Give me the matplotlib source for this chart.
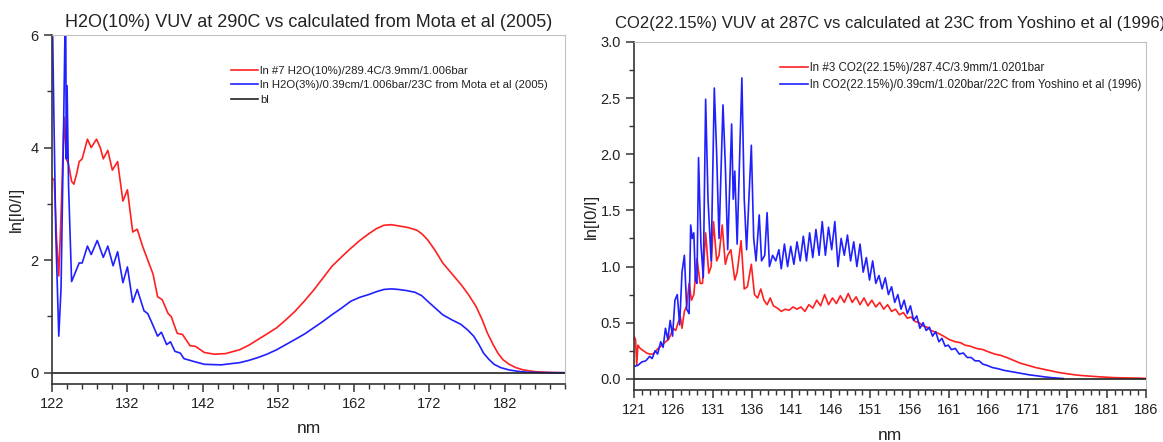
import matplotlib
matplotlib.use("Agg")
import matplotlib.pyplot as plt
from matplotlib.ticker import MultipleLocator, FormatStrFormatter

plt.rcParams['font.family'] = ['Liberation Sans', 'DejaVu Sans']

# ---- H2O panel data ----
h2o_meas_nm = [122.0, 122.3, 122.6, 122.9, 123.2, 123.6, 123.9, 124.2, 124.6, 124.9,
               125.3, 125.6, 126.0, 126.4, 126.7, 127.2, 127.9, 128.4, 128.8, 129.4,
               130.0, 130.7, 131.4, 132.0, 132.7, 133.3, 134.0, 134.7, 135.4, 136.0,
               136.6, 137.4, 137.8, 138.6, 139.3, 140.3, 141.0, 142.2, 143.5, 145.0,
               146.9, 148.1, 149.3, 150.5, 151.8, 153.0, 154.2, 155.5, 156.7, 157.9,
               159.1, 160.4, 161.6, 162.8, 164.0, 165.0, 166.0, 167.0, 167.9, 169.2,
               170.4, 171.1, 171.8, 172.8, 173.8, 175.0, 176.2, 177.2, 178.2, 179.0,
               179.7, 180.4, 181.1, 181.8, 182.6, 183.5, 184.5, 186.0, 188.0, 190.0]
h2o_meas = [3.46, 3.42, 2.4, 1.72, 2.8, 4.54, 3.8, 3.7, 3.4, 3.35,
            3.55, 3.75, 3.8, 4.0, 4.15, 4.0, 4.15, 4.0, 3.8, 3.95,
            3.6, 3.75, 3.05, 3.25, 2.5, 2.55, 2.25, 2.0, 1.75, 1.35,
            1.3, 1.05, 1.0, 0.7, 0.68, 0.48, 0.47, 0.36, 0.33, 0.34,
            0.41, 0.49, 0.59, 0.69, 0.80, 0.94, 1.09, 1.28, 1.47, 1.68,
            1.89, 2.06, 2.21, 2.35, 2.47, 2.56, 2.62, 2.63, 2.61, 2.58,
            2.53, 2.46, 2.36, 2.17, 1.95, 1.76, 1.57, 1.39, 1.18, 0.95,
            0.71, 0.52, 0.35, 0.23, 0.15, 0.09, 0.05, 0.02, 0.005, 0.0]

h2o_calc_nm = [122.0, 122.2, 122.5, 122.9, 123.2, 123.5, 123.8, 123.9, 124.0, 124.2,
               124.6, 125.0, 125.6, 126.0, 126.7, 127.2, 128.0, 128.8, 129.4, 130.1,
               130.7, 131.4, 132.0, 132.7, 133.3, 134.2, 134.7, 135.2, 136.0, 136.5,
               137.2, 137.7, 138.3, 139.0, 139.5, 140.3, 140.8, 142.2, 144.4, 146.9,
               148.1, 149.3, 150.5, 151.8, 153.0, 154.2, 155.5, 156.7, 157.9, 159.1,
               160.4, 161.6, 162.8, 164.0, 165.0, 166.0, 167.0, 167.9, 169.0, 170.1,
               171.0, 171.8, 172.8, 173.8, 175.0, 176.2, 177.1, 177.9, 178.6, 179.2,
               179.9, 180.6, 181.5, 182.6, 183.8, 185.0, 187.0, 190.0]
h2o_calc = [6.8, 5.0, 2.5, 0.65, 1.5, 4.0, 6.8, 3.8, 5.1, 3.3,
            1.62, 1.75, 1.95, 1.95, 2.25, 2.1, 2.35, 2.05, 2.25, 1.9,
            2.15, 1.6, 1.88, 1.25, 1.48, 1.1, 1.05, 0.9, 0.65, 0.72,
            0.5, 0.55, 0.38, 0.35, 0.25, 0.22, 0.2, 0.15, 0.14, 0.18,
            0.22, 0.27, 0.33, 0.41, 0.5, 0.59, 0.69, 0.80, 0.91, 1.03,
            1.15, 1.27, 1.34, 1.39, 1.44, 1.48, 1.49, 1.48, 1.46, 1.43,
            1.37, 1.27, 1.15, 1.03, 0.94, 0.86, 0.76, 0.65, 0.5, 0.35,
            0.24, 0.15, 0.09, 0.05, 0.025, 0.01, 0.003, 0.0]

h2o_bl_nm = [122, 190]
h2o_bl = [0, 0]

# ---- CO2 panel data ----
co2_meas_nm = [121.0, 121.2, 121.35, 121.5, 121.8, 122.2, 122.6, 123.0, 123.4, 123.8,
               124.2, 124.6, 125.0, 125.4, 125.7, 126.0, 126.3, 126.6, 126.9, 127.1,
               127.4, 127.7, 128.0, 128.3, 128.6, 129.0, 129.4, 129.7, 130.1, 130.5,
               130.8, 131.1, 131.5, 131.8, 132.2, 132.6, 132.9, 133.3, 133.8, 134.1,
               134.6, 135.0, 135.4, 135.9, 136.3, 136.7, 137.1, 137.5, 137.9, 138.3,
               138.7, 139.2, 139.7, 140.2, 140.7, 141.2, 141.7, 142.2, 142.7, 143.2,
               143.7, 144.2, 144.7, 145.2, 145.7, 146.2, 146.7, 147.2, 147.7, 148.2,
               148.7, 149.2, 149.7, 150.2, 150.7, 151.2, 151.7, 152.2, 152.7, 153.2,
               153.7, 154.2, 154.7, 155.2, 155.7, 156.2, 156.7, 157.2, 157.7, 158.2,
               158.7, 159.5, 160.3, 161.0, 161.8, 162.5, 163.0, 163.7, 164.5, 165.3,
               166.0, 166.8, 167.5, 168.3, 169.0, 170.0, 171.0, 172.0, 173.0, 174.0,
               175.0, 176.0, 177.0, 178.0, 180.0, 182.0, 186.0]
co2_meas = [0.38, 0.35, 0.12, 0.3, 0.27, 0.25, 0.23, 0.22, 0.22, 0.25,
            0.28, 0.3, 0.33, 0.35, 0.4, 0.45, 0.43, 0.5, 0.55, 0.45,
            0.6, 0.65, 0.85, 0.7, 0.75, 1.07, 0.85, 0.85, 1.3, 0.94,
            1.0, 1.4, 1.05, 1.1, 1.37, 1.02, 1.1, 1.15, 0.88, 0.95,
            1.23, 0.8, 0.82, 1.02, 0.75, 0.72, 0.8, 0.7, 0.66, 0.72,
            0.65, 0.63, 0.6, 0.62, 0.61, 0.64, 0.62, 0.64, 0.6, 0.66,
            0.63, 0.7, 0.65, 0.75, 0.66, 0.72, 0.67, 0.74, 0.68, 0.76,
            0.68, 0.73, 0.66, 0.72, 0.65, 0.7, 0.64, 0.68, 0.62, 0.66,
            0.6, 0.62, 0.57, 0.59, 0.54, 0.55, 0.51, 0.5, 0.47, 0.46,
            0.43, 0.41, 0.38, 0.35, 0.33, 0.32, 0.3, 0.29, 0.27, 0.26,
            0.24, 0.22, 0.21, 0.19, 0.17, 0.14, 0.12, 0.1, 0.085, 0.07,
            0.055, 0.045, 0.035, 0.028, 0.018, 0.01, 0.004]

co2_calc_nm = [121.0, 121.5, 122.0, 122.5, 123.0, 123.3, 123.7, 124.0, 124.4, 124.7,
               125.0, 125.3, 125.6, 125.9, 126.2, 126.5, 126.8, 127.1, 127.4, 127.7,
               128.0, 128.2, 128.4, 128.6, 128.8, 129.0, 129.2, 129.5, 129.8, 130.1,
               130.4, 130.8, 131.2, 131.5, 131.8, 132.3, 132.6, 132.9, 133.4, 133.6,
               133.8, 134.1, 134.7, 135.0, 135.3, 135.9, 136.2, 136.5, 136.9, 137.2,
               137.6, 137.9, 138.2, 138.6, 139.0, 139.4, 139.7, 140.1, 140.5, 140.9,
               141.3, 141.7, 142.1, 142.5, 142.9, 143.3, 143.7, 144.1, 144.5, 144.9,
               145.3, 145.7, 146.1, 146.5, 146.9, 147.3, 147.7, 148.1, 148.5, 148.9,
               149.3, 149.7, 150.1, 150.5, 150.9, 151.3, 151.7, 152.1, 152.5, 152.9,
               153.3, 153.7, 154.1, 154.5, 154.9, 155.3, 155.7, 156.1, 156.5, 156.9,
               157.3, 157.7, 158.1, 158.5, 158.9, 159.3, 159.7, 160.1, 160.5, 160.9,
               161.3, 161.8, 162.3, 162.8, 163.3, 163.8, 164.3, 164.8, 165.3, 165.8,
               166.5, 167.2, 168.0, 168.8, 169.6, 170.4, 171.2, 172.0, 173.0, 174.0,
               175.0, 175.5]
co2_calc = [0.11, 0.12, 0.15, 0.16, 0.2, 0.18, 0.25, 0.22, 0.33, 0.28,
            0.45, 0.35, 0.52, 0.38, 0.7, 0.75, 0.48, 0.95, 1.1, 0.62,
            0.58, 1.37, 1.25, 1.3, 0.88, 0.85, 1.97, 1.2, 0.9, 2.49,
            1.6, 1.05, 2.59, 2.0, 1.25, 2.44, 1.9, 1.15, 2.27, 1.6,
            1.85, 1.2, 2.68, 1.6, 1.15, 2.08, 1.25, 1.05, 1.46, 1.05,
            1.1, 1.48, 1.0, 1.1, 1.05, 1.15, 0.98, 1.2, 1.0, 1.18,
            1.02, 1.22, 1.05, 1.27, 1.05, 1.3, 1.08, 1.33, 1.1, 1.4,
            1.1, 1.35, 1.15, 1.4, 1.0, 1.25, 1.1, 1.28, 1.05, 1.22,
            1.0, 1.2, 0.95, 1.08, 0.88, 1.05, 0.85, 0.92, 0.8, 0.9,
            0.75, 0.82, 0.68, 0.75, 0.62, 0.7, 0.58, 0.65, 0.52, 0.56,
            0.45, 0.5, 0.43, 0.46, 0.38, 0.42, 0.33, 0.36, 0.29, 0.3,
            0.26, 0.27, 0.22, 0.23, 0.19, 0.19, 0.16, 0.16, 0.13, 0.12,
            0.1, 0.09, 0.075, 0.065, 0.055, 0.045, 0.035, 0.028, 0.018, 0.01,
            0.005, 0.002]

co2_bl_nm = [121, 186]
co2_bl = [0, 0]

h2o_labels = ["ln #7 H2O(10%)/289.4C/3.9mm/1.006bar",
              "ln H2O(3%)/0.39cm/1.006bar/23C from Mota et al (2005)",
              "bl"]
co2_labels = ["ln #3 CO2(22.15%)/287.4C/3.9mm/1.0201bar",
              "ln CO2(22.15%)/0.39cm/1.020bar/22C from Yoshino et al (1996)"]

RED = '#ff2020'
BLUE = '#2020ff'
TXT = '#222222'


def style_axes(ax):
    for side in ['top', 'right']:
        ax.spines[side].set_color('#c0c0c0')
        ax.spines[side].set_linewidth(0.8)
    for side in ['left', 'bottom']:
        ax.spines[side].set_color('#333333')
        ax.spines[side].set_linewidth(1.2)
    ax.tick_params(which='major', direction='out', length=6, width=1.1,
                   labelsize=10.5, colors='#333333', labelcolor=TXT)
    ax.tick_params(which='minor', direction='out', length=3.5, width=1.0,
                   colors='#333333')
    ax.tick_params(top=False, right=False, which='both')


fig = plt.figure(figsize=(11.63, 4.42), dpi=100)

# left panel: H2O
ax1 = fig.add_axes([0.0447, 0.1312, 0.4411, 0.7896])
ax1.plot(h2o_meas_nm, h2o_meas, color=RED, lw=1.2, label=h2o_labels[0])
ax1.plot(h2o_calc_nm, h2o_calc, color=BLUE, lw=1.2, label=h2o_labels[1])
ax1.plot(h2o_bl_nm, h2o_bl, color='#222222', lw=1.2, label=h2o_labels[2])
ax1.set_xlim(122, 190)
ax1.set_ylim(-0.2, 6)
ax1.set_xticks([122, 132, 142, 152, 162, 172, 182])
ax1.xaxis.set_minor_locator(MultipleLocator(2))
ax1.set_yticks([0, 2, 4, 6])
ax1.yaxis.set_minor_locator(MultipleLocator(1))
style_axes(ax1)
ax1.set_title("H2O(10%) VUV at 290C vs calculated from Mota et al (2005)",
              fontsize=13, color=TXT, pad=6)
ax1.set_xlabel("nm", fontsize=12.5, color=TXT, labelpad=7)
ax1.set_ylabel("ln[I0/I]", fontsize=12, color=TXT, labelpad=5)
ax1.legend(loc='upper left', bbox_to_anchor=(0.34, 0.925), frameon=False,
           fontsize=8.2, handlelength=2.4, handletextpad=0.15,
           labelspacing=0.4, borderaxespad=0, labelcolor=TXT)

# right panel: CO2
ax2 = fig.add_axes([0.5451, 0.1176, 0.4403, 0.7874])
ax2.plot(co2_meas_nm, co2_meas, color=RED, lw=1.2, label=co2_labels[0])
ax2.plot(co2_calc_nm, co2_calc, color=BLUE, lw=1.2, label=co2_labels[1])
ax2.plot(co2_bl_nm, co2_bl, color='#222222', lw=1.2)
ax2.set_xlim(121, 186)
ax2.set_ylim(-0.1, 3.0)
ax2.set_xticks(list(range(121, 187, 5)))
ax2.xaxis.set_minor_locator(MultipleLocator(1))
ax2.set_yticks([0.0, 0.5, 1.0, 1.5, 2.0, 2.5, 3.0])
ax2.yaxis.set_minor_locator(MultipleLocator(0.25))
ax2.yaxis.set_major_formatter(FormatStrFormatter('%.1f'))
style_axes(ax2)
ax2.set_title("CO2(22.15%) VUV at 287C vs calculated at 23C from Yoshino et al (1996)",
              fontsize=12, color=TXT, pad=10)
ax2.set_xlabel("nm", fontsize=12.5, color=TXT, labelpad=8)
ax2.set_ylabel("ln[I0/I]", fontsize=12, color=TXT, labelpad=1)
ax2.legend(loc='upper left', bbox_to_anchor=(0.276, 0.955), frameon=False,
           fontsize=8.4, handlelength=2.4, handletextpad=0.15,
           labelspacing=0.4, borderaxespad=0, labelcolor=TXT)

fig.savefig("out.png", dpi=100)
